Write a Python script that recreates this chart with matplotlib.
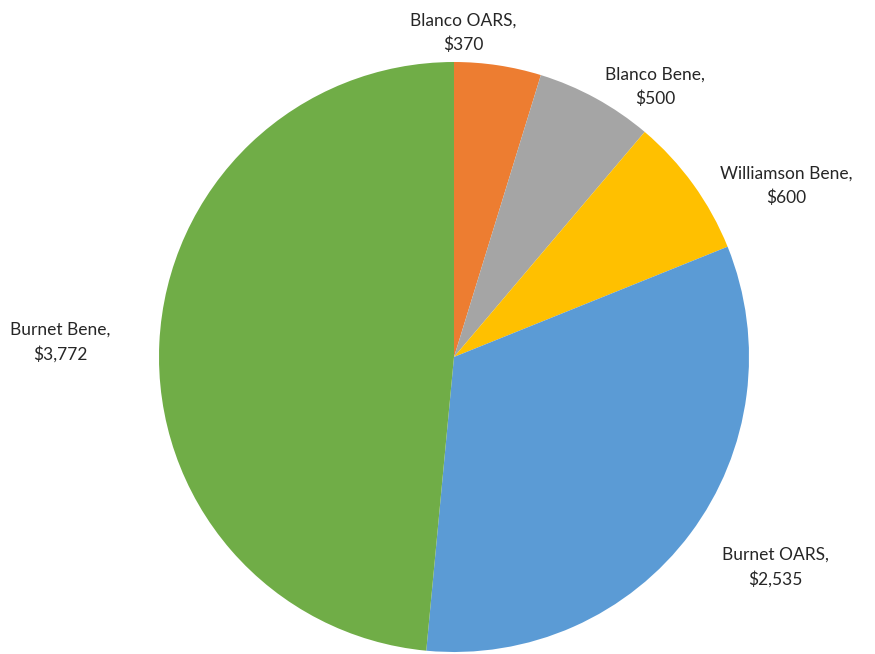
import matplotlib.pyplot as plt

names = ['Blanco OARS', 'Blanco Bene', 'Williamson Bene', 'Burnet OARS', 'Burnet Bene']
amounts = [370, 500, 600, 2535, 3772]
colors = ['#ED7D31', '#A5A5A5', '#FFC000', '#5B9BD5', '#70AD47']

# label centers in pixel coords (from top-left)
label_pos = [(463, 33), (655, 87), (786, 186), (775, 567), (60, 342)]

W, H = 875, 654
fig = plt.figure(figsize=(W / 100, H / 100), dpi=100)
ax = fig.add_axes([0, 0, 1, 1])

ax.pie(amounts, colors=colors, startangle=90, counterclock=False,
       center=(454, H - 357), radius=295, frame=True)
ax.set_xlim(0, W)
ax.set_ylim(0, H)
ax.set_aspect('equal')
ax.axis('off')

for name, amt, (x, y) in zip(names, amounts, label_pos):
    ax.text(x, H - y, f'{name},\n${amt:,}', ha='center', va='center',
            fontsize=12.5, family='Lato', color='#262626', linespacing=1.6)

plt.savefig('out.png', dpi=100)
